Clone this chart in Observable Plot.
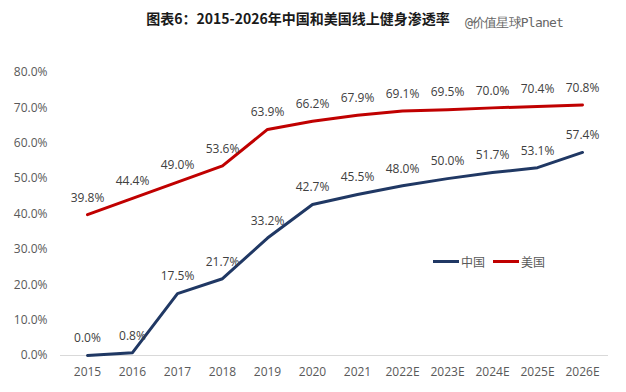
<!DOCTYPE html>
<html><head><meta charset="utf-8">
<script src="https://cdn.jsdelivr.net/npm/d3@7"></script>
<script src="https://cdn.jsdelivr.net/npm/@observablehq/plot@0.6"></script>
<style>
body{margin:0;background:#fff;font-family:"Noto Sans CJK SC","Open Sans",sans-serif;}
#wrap{position:relative;width:626px;height:392px;}
#title{position:absolute;left:0;top:8px;width:596px;text-align:center;font-size:14px;font-weight:bold;color:#1a1a1a;}
#wm{position:absolute;left:465px;top:14px;font-size:13px;color:#666;font-family:"DejaVu Sans Mono",monospace;letter-spacing:-0.8px;}
#chart{position:absolute;left:0;top:40px;}
#legend{position:absolute;left:433px;top:253px;font-size:12px;color:#595959;display:flex;gap:8px;}
#legend span{display:flex;align-items:center;}
#legend i{display:inline-block;width:26px;height:3px;margin-right:2px;}
</style></head>
<body><div id="wrap">
<div id="title">图表6：2015-2026年中国和美国线上健身渗透率</div>
<div id="wm">@价值星球Planet</div>
<div id="chart"></div>
<div id="legend"><span><i style="background:#203864"></i>中国</span><span><i style="background:#C00000"></i>美国</span></div>
</div>
<script>
const years = ["2015","2016","2017","2018","2019","2020","2021","2022E","2023E","2024E","2025E","2026E"];
const china = [0.0,0.8,17.5,21.7,33.2,42.7,45.5,48.0,50.0,51.7,53.1,57.4];
const usa = [39.8,44.4,49.0,53.6,63.9,66.2,67.9,69.1,69.5,70.0,70.4,70.8];
const yTicks = [0,10,20,30,40,50,60,70,80];
const seriesNames = ["中国","美国"];
const colors = ["#203864","#C00000"];

const data = [];
years.forEach((y,i)=>{data.push({year:y,v:china[i],s:seriesNames[0]});data.push({year:y,v:usa[i],s:seriesNames[1]});});

const chart = Plot.plot({
  width:626,height:352,
  marginLeft:60,marginRight:18,marginTop:32,marginBottom:37,
  style:{fontFamily:"'Open Sans','Noto Sans',sans-serif",fontSize:"12px",color:"#595959",background:"transparent"},
  x:{type:"point",domain:years,padding:0.5,label:null,tickSize:0,tickPadding:12},
  y:{domain:[0,80],ticks:yTicks,tickFormat:d=>d.toFixed(1)+"%",label:null,tickSize:0,tickPadding:13},
  color:{domain:seriesNames,range:colors},
  marks:[
    Plot.axisY({ticks:yTicks,tickFormat:d=>d.toFixed(1)+"%",tickSize:0,tickPadding:13,label:null,fontSize:12}),
    Plot.axisX({tickSize:0,tickPadding:12,label:null,fontSize:12}),
    Plot.ruleY([0],{stroke:"#d9d9d9",strokeWidth:1}),
    Plot.line(data,{x:"year",y:"v",z:"s",stroke:"s",strokeWidth:3}),
    Plot.text(data,{x:"year",y:"v",text:d=>d.v.toFixed(1)+"%",dy:-17,fill:"#404040",fontSize:12})
  ]
});
document.getElementById("chart").appendChild(chart);
</script>
</body></html>
